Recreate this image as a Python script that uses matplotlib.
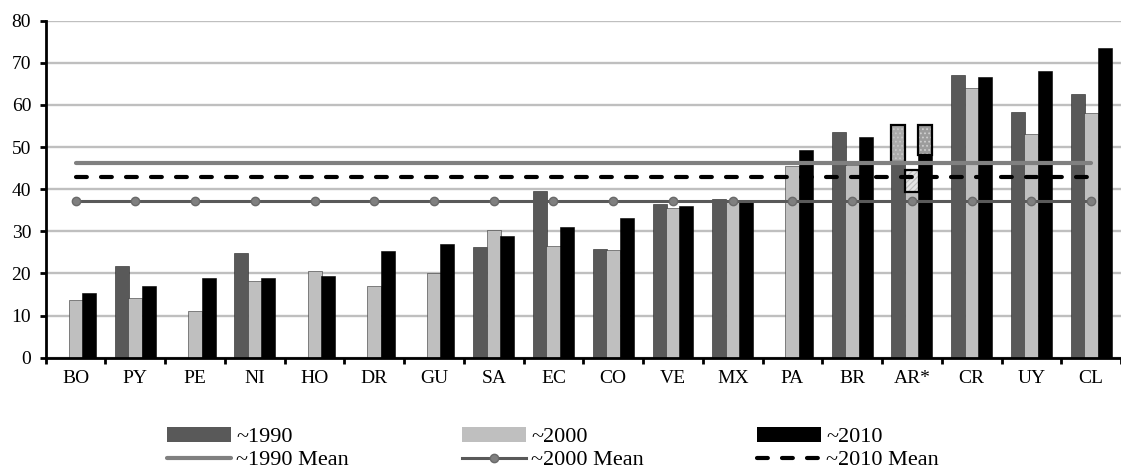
import numpy as np
import matplotlib
matplotlib.use("Agg")
import matplotlib.pyplot as plt
from matplotlib.patches import Patch

plt.rcParams['font.family'] = ['Liberation Serif', 'DejaVu Serif']
plt.rcParams['hatch.linewidth'] = 0.8

# data
countries = ['BO', 'PY', 'PE', 'NI', 'HO', 'DR', 'GU', 'SA', 'EC', 'CO',
             'VE', 'MX', 'PA', 'BR', 'AR*', 'CR', 'UY', 'CL']
nan = np.nan
v1990 = [nan, 21.8, nan, 24.9, nan, nan, nan, 26.2, 39.6, 25.8,
         36.5, 37.6, nan, 53.6, 46.5, 67.1, 58.3, 62.6]
v2000 = [13.7, 14.1, 11.0, 18.3, 20.5, 17.0, 20.0, 30.2, 26.5, 25.6,
         35.5, 37.4, 45.5, 45.8, 39.4, 64.1, 53.2, 58.2]
v2010 = [15.4, 17.1, 18.9, 18.9, 19.3, 25.3, 27.1, 28.9, 31.0, 33.2,
         35.9, 37.2, 49.3, 52.3, 48.1, 66.6, 68.0, 73.6]

# AR* upper (alternative estimate) segment tops for 1990 / 2000 / 2010
ar_top = [55.3, 44.5, 55.3]

mean1990 = 46.3
mean2000 = 37.2
mean2010 = 42.8

c1990 = '#595959'
c2000 = '#BFBFBF'
c2010 = '#000000'

fig = plt.figure(figsize=(11.21, 4.73), dpi=100)
ax = fig.add_axes([0.0408, 0.2438, 0.9592, 0.7124])

x = np.arange(len(countries))
w = 0.235
off = 0.225

ax.bar(x - off, v1990, w, color=c1990, edgecolor='#222222', linewidth=0.4, zorder=2)
ax.bar(x, v2000, w, color=c2000, edgecolor='#333333', linewidth=0.4, zorder=2)
ax.bar(x + off, v2010, w, color=c2010, edgecolor='black', linewidth=0.4, zorder=2)

# AR* hatched upper segments
ia = countries.index('AR*')
bases = [v1990[ia], v2000[ia], v2010[ia]]
faces = ['#ABABAB', '#E4E4E4', '#9C9C9C']
hcols = ['#C8C8C8', '#BDBDBD', '#CFCFCF']
hatches = ['....', '//////', '....']
for k, d in enumerate([-off, 0, off]):
    ax.bar(ia + d, ar_top[k] - bases[k], w, bottom=bases[k], color=faces[k],
           edgecolor=hcols[k], hatch=hatches[k], linewidth=0, zorder=2.5)
    ax.bar(ia + d, ar_top[k] - bases[k], w, bottom=bases[k], fill=False,
           edgecolor='black', linewidth=1.6, zorder=2.6)

# mean lines
l1, = ax.plot(x, np.full(len(x), mean1990), color='#808080', linewidth=3.0,
              solid_capstyle='round', zorder=3)
l2, = ax.plot(x, np.full(len(x), mean2000), color='#595959', linewidth=2.2,
              marker='o', markersize=6, markerfacecolor='#7F7F7F',
              markeredgecolor='#6A6A6A', zorder=3)
l3, = ax.plot(x, np.full(len(x), mean2010), color='black', linewidth=3.0,
              linestyle=(0, (2.6, 3.4)), dash_capstyle='round', zorder=3)

ax.set_ylim(0, 80)
ax.set_yticks(np.arange(0, 81, 10))
ax.set_xlim(-0.5, 17.404)
ax.set_xticks(x)
ax.set_xticklabels(countries)
ax.set_xticks(np.arange(-0.5, 18, 1), minor=True)
ax.tick_params(axis='x', which='major', length=0, pad=9, labelsize=14)
ax.tick_params(axis='x', which='minor', length=4.5, width=2, direction='out')
ax.tick_params(axis='y', length=4.5, width=2, direction='out', pad=6, labelsize=14)

ax.yaxis.grid(True, color='#BFBFBF', linewidth=1.7, zorder=0)
ax.set_axisbelow(True)
for s in ['top', 'right']:
    ax.spines[s].set_visible(False)
ax.spines['left'].set_linewidth(2)
ax.spines['bottom'].set_linewidth(2)

handles = [Patch(facecolor=c1990, edgecolor='none'), l1,
           Patch(facecolor=c2000, edgecolor='none'), l2,
           Patch(facecolor=c2010, edgecolor='none'), l3]
labels = ['~1990', '~1990 Mean', '~2000', '~2000 Mean', '~2010', '~2010 Mean']
fig.legend(handles, labels, loc='center', bbox_to_anchor=(0.4935, 0.052), ncol=3,
           frameon=False, fontsize=16, handlelength=2.85, handletextpad=0.25,
           columnspacing=5.1, labelspacing=0.12)

fig.savefig('out.png', dpi=100)
